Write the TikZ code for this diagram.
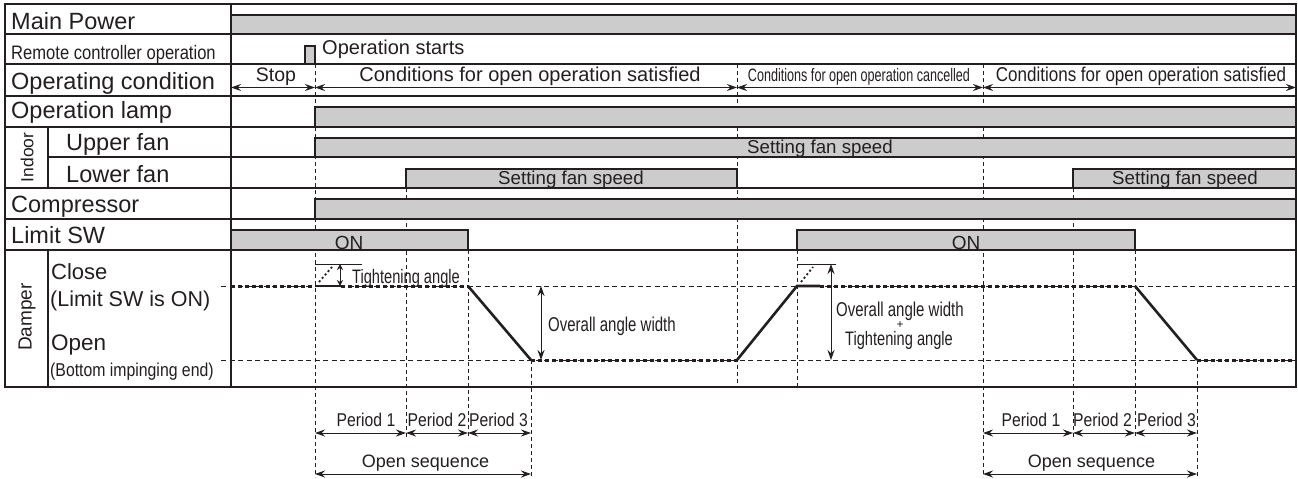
\documentclass[tikz,border=0pt]{standalone}
\usepackage{fontspec}
\setmainfont{Liberation Sans}
\newfontfamily\condA[FakeStretch=0.85]{Liberation Sans}
\newfontfamily\condB[FakeStretch=0.75]{Liberation Sans}
\newfontfamily\condC[FakeStretch=0.70]{Liberation Sans}
\newcommand\fsz[1]{\fontsize{#1}{#1}\selectfont}
\usetikzlibrary{arrows.meta,calc}
\definecolor{BarGray}{HTML}{CCCCCC}
\definecolor{Ink}{HTML}{231F20}

\begin{document}
\begin{tikzpicture}[x=1pt,y=-1pt,every node/.style={text=Ink,inner sep=0pt},grid/.style={draw=Ink,line width=1.4pt},bar/.style={draw=Ink,fill=BarGray,line width=1.2pt},guide/.style={draw=Ink,line width=1pt,dash pattern=on 4pt off 3pt},level/.style={draw=Ink,line width=1pt,dash pattern=on 5pt off 3.5pt},damperpos/.style={draw=Ink,line width=3pt,dash pattern=on 4pt off 3pt},damperrun/.style={draw=Ink,line width=2.6pt},span/.style={{Stealth[length=10pt,width=7pt]}-{Stealth[length=10pt,width=7pt]},draw=Ink,line width=1pt},smallspan/.style={{Stealth[length=6pt,width=6pt]}-{Stealth[length=6pt,width=6pt]},draw=Ink,line width=1pt},rowlabel/.style={anchor=base west,font=\fsz{23.5}},bartext/.style={anchor=base,font=\fsz{18.7}},periodtext/.style={anchor=base,font=\condA\fsz{18.5}}]
\fill[white] (0,0) rectangle (1298,479);
\useasboundingbox (0,0) rectangle (1298,479);

\coordinate (tS) at (315,0); \coordinate (tP1) at (406,0); \coordinate (tP2) at (468,0); \coordinate (tP3) at (531,0); \coordinate (tX) at (737,0);
\coordinate (tC) at (797,0); \coordinate (tR) at (983,0); \coordinate (tQ1) at (1073,0); \coordinate (tQ2) at (1135,0); \coordinate (tQ3) at (1197,0);
\coordinate (lvC) at (0,286); \coordinate (lvO) at (0,360); \coordinate (yPer) at (0,433); \coordinate (ySeq) at (0,474); \coordinate (yCond) at (0,87.5);

\draw[guide] (tS|-0,64) -- (tS|-0,477); \draw[guide] (tP1|-0,188) -- (tP1|-0,438); \draw[guide] (tP2|-0,250) -- (tP2|-0,438); \draw[guide] (tP3|-lvO) -- (tP3|-0,477);
\draw[guide] (tX|-0,64) -- (tX|-0,387); \draw[guide] (tC|-0,250) -- (tC|-0,387); \draw[guide] (tR|-0,64) -- (tR|-0,477);
\draw[guide] (tQ1|-0,188) -- (tQ1|-0,438); \draw[guide] (tQ2|-0,250) -- (tQ2|-0,438); \draw[guide] (tQ3|-lvO) -- (tQ3|-0,477);
\draw[level] (221,286) -- (1296,286); \draw[level] (221,360) -- (1296,360);

\draw[bar] (231,15) rectangle (1296,34); \draw[bar] (305,46) rectangle (315,64); \draw[bar] (315,107) rectangle (1296,127); \draw[bar] (315,138) rectangle (1296,157);
\draw[bar] (406,169) rectangle (737,188); \draw[bar] (1073,169) rectangle (1296,188); \draw[bar] (315,199) rectangle (1296,219);
\draw[bar] (231,230) rectangle (468,250); \draw[bar] (797,230) rectangle (1135,250);

\draw[grid] (5,4) rectangle (1296,387); \draw[grid] (231,4) -- (231,387);
\foreach \y in {34,64,96,127,188,219,250} \draw[grid] (5,\y) -- (1296,\y);
\draw[grid] (48,157) -- (1296,157); \draw[grid] (48,127) -- (48,188); \draw[grid] (48,250) -- (48,387);

\draw[damperpos] (231,286) -- (tS|-lvC); \draw[damperrun] (tS|-lvC) -- (341,286); \draw[damperpos] (341,286) -- (tP2|-lvC);
\draw[damperrun] (tP2|-lvC) -- (tP3|-lvO); \draw[damperpos] (tP3|-lvO) -- (tX|-lvO);
\draw[damperrun] (tX|-lvO) -- (tC|-lvC) -- (820,286); \draw[damperpos] (820,286) -- (tQ2|-lvC);
\draw[damperrun] (tQ2|-lvC) -- (tQ3|-lvO); \draw[damperpos] (tQ3|-lvO) -- (1296,360);

\draw[draw=Ink,line width=1pt] (315,264) -- (362,264); \draw[draw=Ink,line width=1.8pt,dash pattern=on 2pt off 2.5pt] (319,282) -- (332,267); \draw[smallspan] (340,264) -- (340,286);
\draw[draw=Ink,line width=1pt] (797,264) -- (836,264); \draw[draw=Ink,line width=1.8pt,dash pattern=on 2pt off 2.5pt] (801,282) -- (813,267); \draw[span] (831,264) -- (831,360);
\draw[span] (541,286) -- (541,360);

\draw[span] (231,87.5) -- (tS|-yCond); \draw[span] (tS|-yCond) -- (tX|-yCond); \draw[span] (tX|-yCond) -- (tR|-yCond); \draw[span] (tR|-yCond) -- (1296,87.5);
\draw[span] (tS|-yPer) -- (tP1|-yPer); \draw[span] (tP1|-yPer) -- (tP2|-yPer); \draw[span] (tP2|-yPer) -- (tP3|-yPer); \draw[span] (tS|-ySeq) -- (tP3|-ySeq);
\draw[span] (tR|-yPer) -- (tQ1|-yPer); \draw[span] (tQ1|-yPer) -- (tQ2|-yPer); \draw[span] (tQ2|-yPer) -- (tQ3|-yPer); \draw[span] (tR|-ySeq) -- (tQ3|-ySeq);

\node[rowlabel] (lblPower) at (11,29.5) {Main Power};
\node[rowlabel,font=\condA\fsz{19.5}] (lblRemote) at (11,59.5) {Remote controller operation};
\node[rowlabel] (lblCond) at (11,89) {Operating condition};
\node[rowlabel] (lblLamp) at (11,118.5) {Operation lamp};
\node[rotate=90,font=\fsz{17.5}] (lblIndoor) at (27,157.5) {Indoor};
\node[rowlabel] (lblUpper) at (66,150.5) {Upper fan}; \node[rowlabel] (lblLower) at (66,182.5) {Lower fan};
\node[rowlabel] (lblComp) at (11,212.7) {Compressor}; \node[rowlabel] (lblLimit) at (11,243.3) {Limit SW};
\node[rotate=90,font=\fsz{19}] (lblDamper) at (27,317) {Damper};
\node[rowlabel,font=\fsz{22}] (lblClose) at (51,279.3) {Close}; \node[rowlabel,font=\fsz{21.5}] (lblCloseSub) at (50,306) {(Limit SW is ON)};
\node[rowlabel,font=\fsz{22.5}] (lblOpen) at (51,350) {Open}; \node[rowlabel,font=\condA\fsz{18.6}] (lblOpenSub) at (50,376.7) {(Bottom impinging end)};

\node[anchor=base west,font=\fsz{20}] (opStart) at (322,54.3) {Operation starts};
\node[anchor=base,font=\fsz{19.5}] (stop) at (276,81) {Stop};
\node[anchor=base,font=\fsz{20}] (satA) at (530,81) {Conditions for open operation satisfied};
\node[anchor=base,font=\condC\fsz{18}] (cancel) at (859,81) {Conditions for open operation cancelled};
\node[anchor=base,font=\condA\fsz{20}] (satB) at (1141,81) {Conditions for open operation satisfied};
\node[bartext] (upperSpeed) at (820,153.3) {Setting fan speed};
\node[bartext] (lowerSpeedA) at (571,184) {Setting fan speed}; \node[bartext] (lowerSpeedB) at (1185,184) {Setting fan speed};
\node[anchor=base,font=\fsz{19}] (onA) at (349,249.5) {ON}; \node[anchor=base,font=\fsz{19}] (onB) at (966,249.5) {ON};

\node[anchor=base west,font=\condB\fsz{19.5}] (tightA) at (352,283.3) {Tightening angle};
\node[anchor=base west,font=\condB\fsz{20}] (overallA) at (548,331.7) {Overall angle width};
\node[anchor=base,font=\condB\fsz{20}] (overallB) at (900,316) {Overall angle width};
\node[font=\fsz{12}] (plusB) at (900,325.5) {+};
\node[anchor=base,font=\condB\fsz{19.5}] (tightB) at (899,345.5) {Tightening angle};

\node[periodtext] (perA1) at (366,426.7) {Period 1}; \node[periodtext] (perA2) at (437,426.7) {Period 2}; \node[periodtext] (perA3) at (498.5,426.7) {Period 3};
\node[anchor=base,font=\fsz{18}] (seqA) at (425.5,467.3) {Open sequence};
\node[periodtext] (perB1) at (1031,426.7) {Period 1}; \node[periodtext] (perB2) at (1102.5,426.7) {Period 2}; \node[periodtext] (perB3) at (1166.5,426.7) {Period 3};
\node[anchor=base,font=\fsz{18}] (seqB) at (1091.5,467.3) {Open sequence};

\end{tikzpicture}
\end{document}
